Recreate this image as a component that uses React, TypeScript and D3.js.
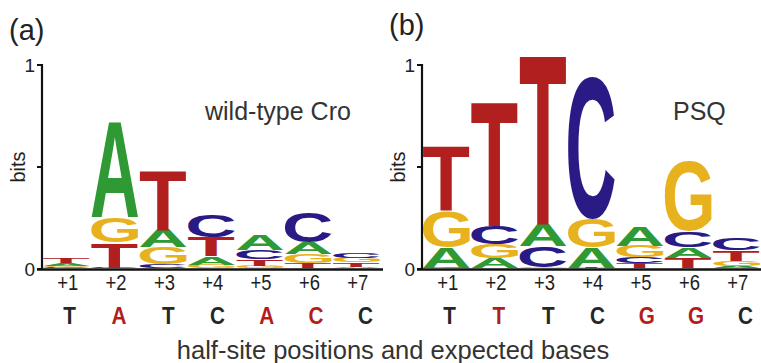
import React from "react";
import * as d3 from "d3";

const positions = ["+1", "+2", "+3", "+4", "+5", "+6", "+7"];
const bitTicks = [0, 0.5, 1];
const bitTickLabels = ["0", "", "1"];

const wtExpected = ["T", "A", "T", "C", "A", "C", "C"];
const wtExpectedRed = [false, true, false, false, true, true, false];
const psqExpected = ["T", "T", "T", "C", "G", "G", "C"];
const psqExpectedRed = [false, true, false, false, true, true, false];

// information content (bits) per base and position
const wtA = [0.015, 0.47, 0.086, 0.04, 0.075, 0.058, 0.008];
const wtC = [0.004, 0.003, 0.02, 0.11, 0.045, 0.15, 0.026];
const wtG = [0.006, 0.125, 0.083, 0.018, 0.012, 0.045, 0.022];
const wtT = [0.025, 0.122, 0.295, 0.093, 0.032, 0.025, 0.02];

const psqA = [0.1, 0.05, 0.108, 0.1, 0.095, 0.052, 0.012];
const psqC = [0.003, 0.088, 0.105, 0.7, 0.03, 0.08, 0.058];
const psqG = [0.175, 0.068, 0.003, 0.14, 0.055, 0.34, 0.025];
const psqT = [0.32, 0.61, 0.835, 0.003, 0.025, 0.05, 0.05];

const baseColors: Record<string, string> = {
  A: "#2f9934",
  C: "#2a1a86",
  G: "#e8b21f",
  T: "#b1201f",
};

const GLYPH_FONT = "'Liberation Sans', Arial, sans-serif";
const TEXT_FONT = "'Liberation Sans', Arial, Helvetica, sans-serif";

const metricsCache: Record<string, { l: number; r: number; a: number; d: number }> = {};
function glyphMetrics(letter: string) {
  if (metricsCache[letter]) return metricsCache[letter];
  let res = { l: -2, r: 72, a: 72, d: 0 };
  try {
    const c = document.createElement("canvas");
    const ctx = c.getContext("2d");
    if (ctx) {
      ctx.font = `bold 100px ${GLYPH_FONT}`;
      const m = ctx.measureText(letter);
      if (m.actualBoundingBoxAscent > 0) {
        res = {
          l: m.actualBoundingBoxLeft,
          r: m.actualBoundingBoxRight,
          a: m.actualBoundingBoxAscent,
          d: m.actualBoundingBoxDescent,
        };
      }
    }
  } catch (e) {}
  metricsCache[letter] = res;
  return res;
}

type PanelProps = {
  axisX: number;
  axisEnd: number;
  A: number[];
  C: number[];
  G: number[];
  T: number[];
  expected: string[];
  expectedRed: boolean[];
  tag: string;
  tagY: number;
  name: string;
  nameX: number;
  nameSize: number;
};

function Panel(p: PanelProps) {
  const y = d3.scaleLinear().domain([0, 1]).range([269, 65]);
  const x = d3
    .scaleBand<string>()
    .domain(positions)
    .range([p.axisX, p.axisX + 338.5])
    .paddingInner(0);
  const xb = d3
    .scaleBand<string>()
    .domain(positions)
    .range([p.axisX + 3, p.axisX + 348]);
  const step = x.bandwidth();

  const stacks = positions.map((pos, i) => {
    const items = [
      { b: "A", v: p.A[i] },
      { b: "C", v: p.C[i] },
      { b: "G", v: p.G[i] },
      { b: "T", v: p.T[i] },
    ].sort((a, b) => a.v - b.v);
    let acc = 0;
    return items.map((it) => {
      const y0 = acc;
      acc += it.v;
      return { ...it, y0, y1: acc, pos };
    });
  });

  return (
    <g>
      <text x={p.axisX - 33} y={p.tagY} fontFamily={TEXT_FONT} fontSize={29} fill="#222">
        {p.tag}
      </text>
      {/* letters */}
      {stacks.map((stack, i) =>
        stack.map((s) => {
          const m = glyphMetrics(s.b);
          const x0 = (x(s.pos) as number) + 1;
          const w = step - 1.5;
          const top = y(s.y1) - 0.8;
          const h = y(s.y0) - y(s.y1);
          if (h <= 0.05) return null;
          const sx = w / (m.l + m.r);
          const sy = h / (m.a + m.d);
          return (
            <text
              key={`${i}-${s.b}`}
              x={0}
              y={0}
              fontFamily={GLYPH_FONT}
              fontWeight="bold"
              fontSize={100}
              fill={baseColors[s.b]}
              transform={`translate(${x0},${top}) scale(${sx},${sy}) translate(${m.l},${m.a})`}
            >
              {s.b}
            </text>
          );
        })
      )}
      {/* axes */}
      <line x1={p.axisX} x2={p.axisX} y1={y(1) - 1} y2={y(0) + 1} stroke="#111" strokeWidth={2.2} />
      <line x1={p.axisX - 5} x2={p.axisEnd} y1={y(0) + 0.5} y2={y(0) + 0.5} stroke="#111" strokeWidth={2.4} />
      {bitTicks.map((t, i) => (
        <g key={t}>
          <line x1={p.axisX - 5} x2={p.axisX} y1={y(t)} y2={y(t)} stroke="#111" strokeWidth={2} />
          {bitTickLabels[i] && (
            <text
              x={p.axisX - 7}
              y={y(t)}
              dy="0.36em"
              textAnchor="end"
              fontFamily={TEXT_FONT}
              fontSize={19}
              fill="#222"
            >
              {bitTickLabels[i]}
            </text>
          )}
        </g>
      ))}
      <text
        transform={`translate(${p.axisX - 17},${y(0.5)}) rotate(-90)`}
        textAnchor="middle"
        fontFamily={TEXT_FONT}
        fontSize={20}
        fill="#222"
      >
        bits
      </text>
      <text x={p.nameX} y={120} fontFamily={TEXT_FONT} fontSize={p.nameSize} fill="#333">
        {p.name}
      </text>
      {/* position labels */}
      {positions.map((pos) => (
        <text
          key={pos}
          transform={`translate(${(x(pos) as number) + step / 2 + 1.5},290) scale(0.82,1)`}
          textAnchor="middle"
          fontFamily={TEXT_FONT}
          fontSize={22.5}
          fill="#1e1e1e"
        >
          {pos}
        </text>
      ))}
      {/* expected bases */}
      {positions.map((pos, i) => (
        <text
          key={"e" + pos}
          transform={`translate(${(xb(pos) as number) + xb.bandwidth() / 2},323.5) scale(0.9,1)`}
          textAnchor="middle"
          fontFamily={TEXT_FONT}
          fontWeight="bold"
          fontSize={23}
          fill={p.expectedRed[i] ? "#b41c1c" : "#262626"}
        >
          {p.expected[i]}
        </text>
      ))}
    </g>
  );
}

export default function App() {
  return (
    <svg
      width={761}
      height={363}
      viewBox="0 0 761 363"
      style={{ position: "absolute", left: 0, top: 0, background: "#fff" }}
    >
      <rect width={761} height={363} fill="#fff" />
      <Panel
        axisX={42}
        axisEnd={383}
        A={wtA}
        C={wtC}
        G={wtG}
        T={wtT}
        expected={wtExpected}
        expectedRed={wtExpectedRed}
        tag="(a)"
        tagY={40}
        name="wild-type Cro"
        nameX={205}
        nameSize={25}
      />
      <Panel
        axisX={422}
        axisEnd={761}
        A={psqA}
        C={psqC}
        G={psqG}
        T={psqT}
        expected={psqExpected}
        expectedRed={psqExpectedRed}
        tag="(b)"
        tagY={35}
        name="PSQ"
        nameX={673}
        nameSize={25}
      />
      <text
        x={393}
        y={359}
        textAnchor="middle"
        fontFamily={TEXT_FONT}
        fontSize={25.5}
        fill="#333"
      >
        half-site positions and expected bases
      </text>
    </svg>
  );
}
